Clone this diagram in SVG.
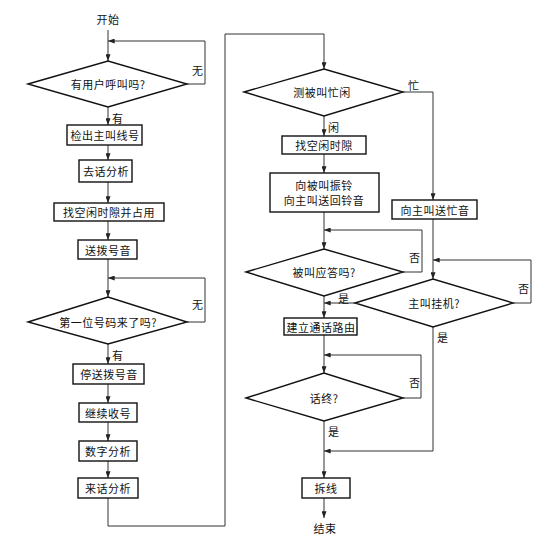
<svg xmlns="http://www.w3.org/2000/svg" width="553" height="536" viewBox="0 0 553 536">
<defs>
<marker id="ah" viewBox="0 0 8 6" refX="8" refY="3" markerWidth="7" markerHeight="5" orient="auto" markerUnits="userSpaceOnUse">
<path d="M0,0 L8,3 L0,6 z" fill="#222"/>
</marker>
<style>
.n{fill:#fff;stroke:#111;stroke-width:1.4}
.c{fill:none;stroke:#333;stroke-width:1}
.t{font-family:"Noto Sans CJK SC","Liberation Sans",sans-serif;font-size:11px;fill:#111;text-anchor:middle;dominant-baseline:central;letter-spacing:0.5px}
.l{font-family:"Noto Sans CJK SC","Liberation Sans",sans-serif;font-size:11px;fill:#111;dominant-baseline:central}
</style>
</defs>
<rect width="553" height="536" fill="#fff"/>
<g id="connectors">
<path class="c" d="M108,30 V61" marker-end="url(#ah)"/>
<path class="c" d="M187,84 H205 V41 H108" marker-end="url(#ah)"/>
<path class="c" d="M108,107 V125" marker-end="url(#ah)"/>
<path class="c" d="M108,145 V160" marker-end="url(#ah)"/>
<path class="c" d="M108,182 V203" marker-end="url(#ah)"/>
<path class="c" d="M108,221 V240" marker-end="url(#ah)"/>
<path class="c" d="M108,259 V297" marker-end="url(#ah)"/>
<path class="c" d="M187,322 H205 V278 H108" marker-end="url(#ah)"/>
<path class="c" d="M108,344 V364" marker-end="url(#ah)"/>
<path class="c" d="M108,384 V403" marker-end="url(#ah)"/>
<path class="c" d="M108,422 V441" marker-end="url(#ah)"/>
<path class="c" d="M108,461 V478" marker-end="url(#ah)"/>
<path class="c" d="M108,498 V526 H225 V34 H324 V69" marker-end="url(#ah)"/>
<path class="c" d="M324,116 V136" marker-end="url(#ah)"/>
<path class="c" d="M403,92 H433 V200" marker-end="url(#ah)"/>
<path class="c" d="M324,154 V173" marker-end="url(#ah)"/>
<path class="c" d="M324,212 V249" marker-end="url(#ah)"/>
<path class="c" d="M403,272 H422 V230 H324" marker-end="url(#ah)"/>
<path class="c" d="M433,219 V279" marker-end="url(#ah)"/>
<path class="c" d="M513,303 H531 V260 H433" marker-end="url(#ah)"/>
<path class="c" d="M355,303 H324" marker-end="url(#ah)"/>
<path class="c" d="M324,296 V318" marker-end="url(#ah)"/>
<path class="c" d="M324,335 V373" marker-end="url(#ah)"/>
<path class="c" d="M403,398 H421 V355 H324" marker-end="url(#ah)"/>
<path class="c" d="M433,327 V451 H324" marker-end="url(#ah)"/>
<path class="c" d="M324,421 V478" marker-end="url(#ah)"/>
<path class="c" d="M324,498 V518" marker-end="url(#ah)"/>
<text class="l" x="192" y="70">无</text>
<text class="l" x="112" y="118">有</text>
<text class="l" x="192" y="304">无</text>
<text class="l" x="112" y="355">有</text>
<text class="l" x="408" y="85">忙</text>
<text class="l" x="328" y="127">闲</text>
<text class="l" x="409" y="257">否</text>
<text class="l" x="518" y="288">否</text>
<text class="l" x="338" y="298">是</text>
<text class="l" x="437" y="337">是</text>
<text class="l" x="409" y="382">否</text>
<text class="l" x="328" y="431">是</text>
</g>
<g id="start"><text class="t" x="108" y="19">开始</text></g>
<g id="d1"><polygon class="n" points="28,84 108,61 187,84 108,107"/><text class="t" x="108" y="84">有用户呼叫吗?</text></g>
<g id="b1"><rect class="n" x="67" y="125" width="75" height="20"/><text class="t" x="105" y="135">检出主叫线号</text></g>
<g id="b2"><rect class="n" x="79" y="160" width="53" height="22"/><text class="t" x="106" y="171">去话分析</text></g>
<g id="b3"><rect class="n" x="54" y="203" width="110" height="18"/><text class="t" x="109" y="212">找空闲时隙并占用</text></g>
<g id="b4"><rect class="n" x="78" y="240" width="59" height="19"/><text class="t" x="108" y="249.5">送拨号音</text></g>
<g id="d2"><polygon class="n" points="28,322 108,297 187,322 108,344"/><text class="t" x="108" y="322">第一位号码来了吗?</text></g>
<g id="b5"><rect class="n" x="73" y="364" width="71" height="20"/><text class="t" x="109" y="374">停送拨号音</text></g>
<g id="b6"><rect class="n" x="79" y="403" width="58" height="19"/><text class="t" x="108" y="412.5">继续收号</text></g>
<g id="b7"><rect class="n" x="79" y="441" width="58" height="20"/><text class="t" x="108" y="451">数字分析</text></g>
<g id="b8"><rect class="n" x="78" y="478" width="60" height="20"/><text class="t" x="108" y="488">来话分析</text></g>
<g id="d3"><polygon class="n" points="244,92 324,69 403,92 324,116"/><text class="t" x="322" y="92">测被叫忙闲</text></g>
<g id="b9"><rect class="n" x="282" y="136" width="84" height="18"/><text class="t" x="324" y="145">找空闲时隙</text></g>
<g id="b10"><rect class="n" x="270" y="173" width="109" height="39"/><text class="t" x="324" y="184.5">向被叫振铃</text><text class="t" x="324" y="199.5">向主叫送回铃音</text></g>
<g id="b11"><rect class="n" x="392" y="200" width="85" height="19"/><text class="t" x="435" y="209.5">向主叫送忙音</text></g>
<g id="d4"><polygon class="n" points="246,272 324,249 403,272 324,296"/><text class="t" x="324" y="272">被叫应答吗?</text></g>
<g id="d5"><polygon class="n" points="355,303 433,279 513,303 433,327"/><text class="t" x="434" y="303">主叫挂机?</text></g>
<g id="b12"><rect class="n" x="284" y="318" width="73" height="17"/><text class="t" x="321" y="326.5">建立通话路由</text></g>
<g id="d6"><polygon class="n" points="246,398 324,373 403,398 324,421"/><text class="t" x="324" y="398">话终?</text></g>
<g id="b13"><rect class="n" x="302" y="478" width="48" height="20"/><text class="t" x="326" y="488">拆线</text></g>
<g id="end"><text class="t" x="325" y="528">结束</text></g>
</svg>
